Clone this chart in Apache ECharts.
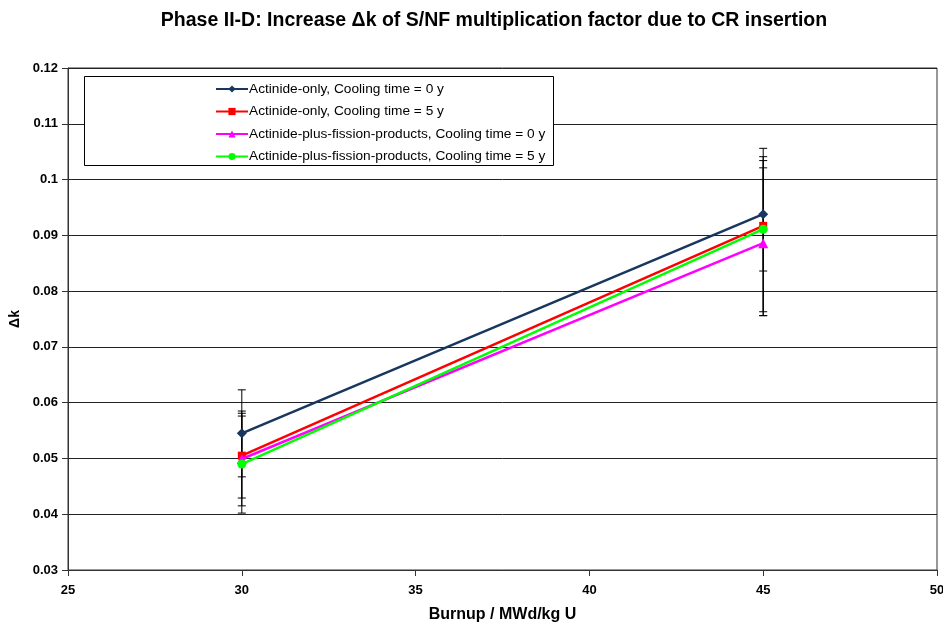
<!DOCTYPE html>
<html>
<head>
<meta charset="utf-8">
<script src="https://cdn.jsdelivr.net/npm/echarts@6/dist/echarts.min.js"></script>
<style>html,body{margin:0;padding:0;background:#fff}#c{width:943px;height:625px}</style>
</head>
<body>
<div id="c"></div>
<script>
var burnup = [30, 45];
var seriesNames = [
  'Actinide-only, Cooling time = 0 y',
  'Actinide-only, Cooling time = 5 y',
  'Actinide-plus-fission-products, Cooling time = 0 y',
  'Actinide-plus-fission-products, Cooling time = 5 y'
];
var actOnly0 = [0.0545, 0.0938];
var actOnly5 = [0.0505, 0.0917];
var actFp0 = [0.0499, 0.0886];
var actFp5 = [0.0490, 0.0911];
// error bar bounds [low, high] at each burnup
var errActOnly0 = [[0.0467, 0.0623], [0.0836, 0.1041]];
var errActOnly5 = [[0.0429, 0.0585], [0.0763, 0.1056]];
var errActFp0 = [[0.0415, 0.0581], [0.0756, 0.1021]];
var errActFp5 = [[0.0402, 0.0576], [0.0756, 0.1034]];
var yTicks = [0.03, 0.04, 0.05, 0.06, 0.07, 0.08, 0.09, 0.1, 0.11, 0.12];
var xTicks = [25, 30, 35, 40, 45, 50];

var colors = ['#17375E', '#FF0000', '#FF00FF', '#00FF00'];
var symbols = ['diamond', 'rect', 'triangle', 'circle'];
var symbolSizes = [10, 8, 10, 9];
var values = [actOnly0, actOnly5, actFp0, actFp5];
var errs = [errActOnly0, errActOnly5, errActFp0, errActFp5];
var FONT = 'Liberation Sans, Arial, sans-serif';

var series = [];
values.forEach(function (v, i) {
  series.push({
    name: seriesNames[i],
    type: 'line',
    data: burnup.map(function (b, j) { return [b, v[j]]; }),
    symbol: symbols[i],
    symbolSize: symbolSizes[i],
    showAllSymbol: true,
    lineStyle: { color: colors[i], width: 2.5 },
    itemStyle: { color: colors[i] },
    z: 5 + i,
    animation: false
  });
});
var errData = [];
errs.forEach(function (e) {
  burnup.forEach(function (b, j) { errData.push([b, e[j][0], e[j][1]]); });
});
series.push({
  type: 'custom',
  silent: true,
  z: 3,
  animation: false,
  data: errData,
  encode: { x: 0, y: [1, 2] },
  renderItem: function (params, api) {
    var lo = api.coord([api.value(0), api.value(1)]);
    var hi = api.coord([api.value(0), api.value(2)]);
    var w = 4;
    var st = { stroke: '#000', lineWidth: 1 };
    return {
      type: 'group',
      children: [
        { type: 'line', shape: { x1: lo[0], y1: lo[1], x2: hi[0], y2: hi[1] }, style: st },
        { type: 'line', shape: { x1: lo[0] - w, y1: lo[1], x2: lo[0] + w, y2: lo[1] }, style: st },
        { type: 'line', shape: { x1: hi[0] - w, y1: hi[1], x2: hi[0] + w, y2: hi[1] }, style: st }
      ]
    };
  }
});

var chart = echarts.init(document.getElementById('c'), null, { renderer: 'canvas' });
chart.setOption({
  backgroundColor: '#fff',
  animation: false,
  title: {
    text: 'Phase II-D: Increase \u0394k of S/NF multiplication factor due to CR insertion',
    left: 489, textAlign: 'center', top: 6,
    textStyle: { fontFamily: FONT, fontSize: 19.5, fontWeight: 'bold', color: '#000' }
  },
  grid: {
    left: 68, right: 6, top: 68, bottom: 55, containLabel: false, outerBoundsMode: 'none',
    show: true, borderColor: '#333', borderWidth: 1, backgroundColor: 'transparent'
  },
  graphic: [{
    type: 'rect', left: 84, top: 76, z: 10,
    shape: { width: 469, height: 89 },
    style: { fill: '#fff', stroke: '#000', lineWidth: 1 }
  }],
  legend: {
    orient: 'vertical', left: 210, top: 77, z: 20,
    itemWidth: 32, itemHeight: 9, itemGap: 8.5,
    data: seriesNames,
    textStyle: { fontFamily: FONT, fontSize: 13.7, lineHeight: 14, color: '#000', padding: [0, 0, 0, -4] }
  },
  xAxis: {
    type: 'value', min: xTicks[0], max: xTicks[xTicks.length - 1], interval: 5,
    name: 'Burnup / MWd/kg U', nameLocation: 'middle', nameGap: 37,
    nameTextStyle: { fontFamily: FONT, fontSize: 16, fontWeight: 'bold', color: '#000' },
    axisLine: { onZero: false, lineStyle: { color: '#333' } },
    axisTick: { show: true, length: 6, lineStyle: { color: '#333' } },
    axisLabel: { fontFamily: FONT, fontSize: 13, fontWeight: 'bold', color: '#000', margin: 14 },
    splitLine: { show: false }
  },
  yAxis: {
    type: 'value', min: yTicks[0], max: yTicks[yTicks.length - 1], interval: 0.01,
    name: '\u0394k', nameLocation: 'middle', nameGap: 45, nameRotate: 90,
    nameTextStyle: { fontFamily: FONT, fontSize: 14, fontWeight: 'bold', color: '#000' },
    axisLine: { show: true, lineStyle: { color: '#333' } },
    axisTick: { show: true, length: 6, lineStyle: { color: '#333' } },
    axisLabel: {
      fontFamily: FONT, fontSize: 13, fontWeight: 'bold', color: '#000', margin: 10,
      formatter: function (v) { return String(Math.round(v * 100) / 100); }
    },
    splitLine: { show: true, lineStyle: { color: '#222', width: 1 } }
  },
  series: series
});
</script>
</body>
</html>
